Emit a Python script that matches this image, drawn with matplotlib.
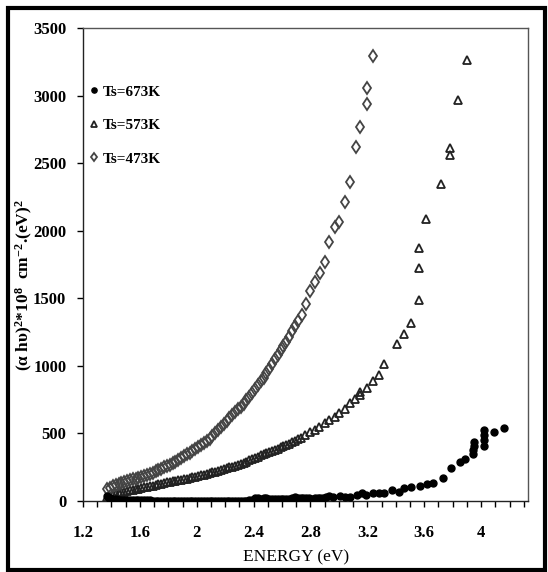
import matplotlib
matplotlib.use("Agg")
import matplotlib.pyplot as plt
from matplotlib.patches import Rectangle

plt.rcParams['font.family'] = ['Liberation Serif', 'DejaVu Serif']
plt.rcParams['mathtext.fontset'] = 'custom'
plt.rcParams['mathtext.rm'] = 'Liberation Serif:bold'
plt.rcParams['mathtext.bf'] = 'Liberation Serif:bold'
plt.rcParams['mathtext.it'] = 'Liberation Serif:bold:italic'

# ---- data: Ts = 473 K (open diamonds) ----
e473 = [1.37, 1.39, 1.41, 1.43, 1.45, 1.47, 1.49, 1.51, 1.53, 1.55, 1.57, 1.59, 1.61, 1.63,
        1.65, 1.67, 1.69, 1.71, 1.73, 1.75, 1.77, 1.79, 1.81, 1.83, 1.85, 1.87, 1.89, 1.91,
        1.93, 1.95, 1.97, 1.99, 2.01, 2.03, 2.05, 2.07, 2.09, 2.11, 2.13, 2.15, 2.17, 2.19,
        2.21, 2.23, 2.25, 2.27, 2.29, 2.31, 2.33, 2.35, 2.37, 2.39, 2.41, 2.43, 2.45, 2.47,
        2.49, 2.51, 2.53, 2.55, 2.57, 2.59, 2.61, 2.63, 2.65, 2.67, 2.69, 2.71, 2.74, 2.77,
        2.80, 2.83, 2.87, 2.90, 2.93, 2.97, 3.00, 3.04, 3.08, 3.12, 3.15, 3.20, 3.20, 3.24]
v473 = [88, 96, 108, 118, 125, 132, 138, 145, 152, 160, 166, 172, 178, 186,
        194, 202, 210, 220, 230, 240, 250, 260, 270, 280, 290, 302, 315, 330,
        345, 358, 370, 385, 398, 412, 428, 445, 462, 480, 500, 522, 545, 568,
        590, 612, 635, 658, 678, 698, 720, 745, 770, 800, 830, 858, 885, 912,
        945, 978, 1012, 1048, 1082, 1118, 1150, 1180, 1215, 1255, 1295, 1330, 1376, 1458,
        1556, 1623, 1689, 1771, 1919, 2025, 2067, 2210, 2358, 2620, 2765, 2935, 3058, 3293]

# ---- data: Ts = 573 K (open triangles) ----
e573 = [1.37, 1.39, 1.41, 1.43, 1.45, 1.47, 1.49, 1.51, 1.53, 1.55, 1.57, 1.59, 1.61, 1.63,
        1.65, 1.67, 1.69, 1.71, 1.73, 1.75, 1.77, 1.79, 1.81, 1.83, 1.85, 1.87, 1.89, 1.91,
        1.93, 1.95, 1.97, 1.99, 2.01, 2.03, 2.05, 2.07, 2.09, 2.11, 2.13, 2.15, 2.17, 2.19,
        2.21, 2.23, 2.25, 2.27, 2.29, 2.31, 2.33, 2.35, 2.37, 2.39, 2.41, 2.43, 2.45, 2.47,
        2.49, 2.51, 2.53, 2.55, 2.57, 2.59, 2.61, 2.63, 2.65, 2.67, 2.69, 2.71, 2.73, 2.76,
        2.80, 2.83, 2.86, 2.90, 2.93, 2.97, 3.00, 3.04, 3.08, 3.11, 3.15, 3.15, 3.20, 3.24,
        3.28, 3.32, 3.41, 3.46, 3.51, 3.56, 3.56, 3.56, 3.61, 3.72, 3.78, 3.78, 3.84, 3.90]
v573 = [30, 38, 45, 52, 58, 64, 70, 76, 80, 84, 88, 92, 96, 100,
        104, 108, 113, 118, 123, 128, 133, 138, 142, 146, 150, 154, 158, 162,
        166, 170, 175, 180, 185, 190, 196, 202, 208, 213, 218, 224, 230, 236,
        242, 248, 255, 262, 270, 277, 284, 292, 300, 310, 318, 328, 338, 347,
        355, 362, 370, 378, 388, 396, 405, 414, 424, 436, 446, 456, 468, 488,
        508, 525, 550, 580, 599, 624, 649, 678, 723, 755, 784, 809, 839, 888,
        932, 1014, 1159, 1233, 1320, 1487, 1722, 1875, 2086, 2343, 2560, 2614, 2967, 3263]

# ---- data: Ts = 673 K (filled circles) ----
e673 = [1.37, 1.38, 1.39, 1.41, 1.43, 1.45, 1.47, 1.49, 1.51, 1.53, 1.55, 1.57, 1.59, 1.61,
        1.63, 1.65, 1.67, 1.69, 1.71, 1.73, 1.75, 1.77, 1.79, 1.81, 1.83, 1.85, 1.87, 1.89,
        1.91, 1.93, 1.95, 1.97, 1.99, 2.01, 2.03, 2.05, 2.07, 2.09, 2.11, 2.13, 2.15, 2.17,
        2.19, 2.21, 2.23, 2.25, 2.27, 2.29, 2.31, 2.33, 2.35, 2.37, 2.39, 2.41, 2.43, 2.45,
        2.47, 2.49, 2.51, 2.53, 2.55, 2.57, 2.59, 2.61, 2.63, 2.65, 2.67, 2.69, 2.71, 2.73,
        2.75, 2.77, 2.79, 2.81, 2.83, 2.85, 2.87, 2.89, 2.91, 2.93, 2.96, 3.01, 3.04, 3.08,
        3.13, 3.16, 3.19, 3.24, 3.28, 3.32, 3.37, 3.42, 3.46, 3.51, 3.57, 3.62, 3.66, 3.73,
        3.79, 3.85, 3.89, 3.94, 3.94, 3.95, 3.95, 4.02, 4.02, 4.02, 4.02, 4.09, 4.16]
v673 = [35, 25, 20, 15, 12, 10, 8, 7, 6, 5, 5, 5, 4, 4,
        4, 4, 4, 3, 3, 3, 3, 3, 3, 3, 3, 3, 3, 3,
        3, 3, 3, 3, 3, 3, 3, 3, 3, 3, 3, 3, 3, 3,
        3, 3, 3, 3, 3, 3, 3, 3, 3, 4, 5, 20, 22, 18,
        20, 22, 18, 15, 18, 15, 12, 15, 12, 15, 20, 28, 25, 22,
        20, 22, 20, 18, 20, 22, 20, 22, 30, 38, 32, 37, 32, 32,
        44, 57, 44, 57, 57, 57, 81, 69, 94, 106, 113, 123, 131, 168,
        242, 291, 309, 345, 375, 410, 440, 410, 450, 490, 525, 513, 538]

xticks = [1.2, 1.6, 2.0, 2.4, 2.8, 3.2, 3.6, 4.0]
xticklabels = ['1.2', '1.6', '2', '2.4', '2.8', '3.2', '3.6', '4']
yticks = [0, 500, 1000, 1500, 2000, 2500, 3000, 3500]
labels = ['Ts=673K', 'Ts=573K', 'Ts=473K']

W, H = 548, 572
fig = plt.figure(figsize=(W / 100, H / 100), dpi=100)
ax = fig.add_axes([83 / W, 1 - 501 / H, (528 - 83) / W, (501 - 28) / H])

ax.plot(e673, v673, linestyle='none', marker='o', markersize=5.0,
        markerfacecolor='black', markeredgecolor='black', label=labels[0], zorder=3)
ax.plot(e573, v573, linestyle='none', marker='^', markersize=5.6,
        markerfacecolor='none', markeredgecolor='#222222', markeredgewidth=1.3,
        label=labels[1], zorder=2)
ax.plot(e473, v473, linestyle='none', marker='d', markersize=6.0,
        markerfacecolor='none', markeredgecolor='#444444', markeredgewidth=1.3,
        label=labels[2], zorder=2)

ax.set_xlim(1.2, 4.33)
ax.set_ylim(0, 3500)
ax.set_xticks(xticks)
ax.set_xticklabels(xticklabels)
ax.set_xticks([1.2 + 0.1 * i for i in range(32)], minor=True)
ax.set_yticks(yticks)
ax.set_yticklabels([str(v) for v in yticks])

for lab in ax.get_xticklabels() + ax.get_yticklabels():
    lab.set_fontweight('bold')
    lab.set_fontsize(12)
ax.tick_params(axis='x', which='both', direction='out', length=4, width=1.0,
               pad=13, colors='black')
ax.tick_params(axis='y', which='major', direction='out', length=4, width=1.0,
               pad=8, colors='black')
for sp in ax.spines.values():
    sp.set_linewidth(1.0)
    sp.set_color('#222222')
ax.spines['right'].set_color('#555555')
ax.spines['top'].set_color('#555555')

fig.text(296 / W, 1 - 557 / H, 'ENERGY (eV)', ha='center', va='center',
         fontsize=12.5, fontweight='normal')
fig.text(24 / W, 1 - 285 / H,
         r'(α hυ)$^{2}$*10$^{8}$  cm$^{-2}$.(eV)$^{2}$',
         rotation=90, ha='center', va='center', fontsize=12.5, fontweight='bold')

leg = ax.legend(loc='upper left', bbox_to_anchor=(91 / W, 1 - 85 / H),
                bbox_transform=fig.transFigure, frameon=False,
                handlelength=0.45, handletextpad=0.3, labelspacing=1.3,
                borderpad=0, borderaxespad=0, markerscale=0.75,
                prop={'family': 'Liberation Serif', 'weight': 'bold', 'size': 11})

fig.patches.append(Rectangle((8 / W, 1 - 570 / H), (545 - 8) / W, (570 - 8) / H,
                             transform=fig.transFigure, fill=False,
                             edgecolor='black', linewidth=3.0, zorder=10))

fig.savefig('out.png', dpi=100)
